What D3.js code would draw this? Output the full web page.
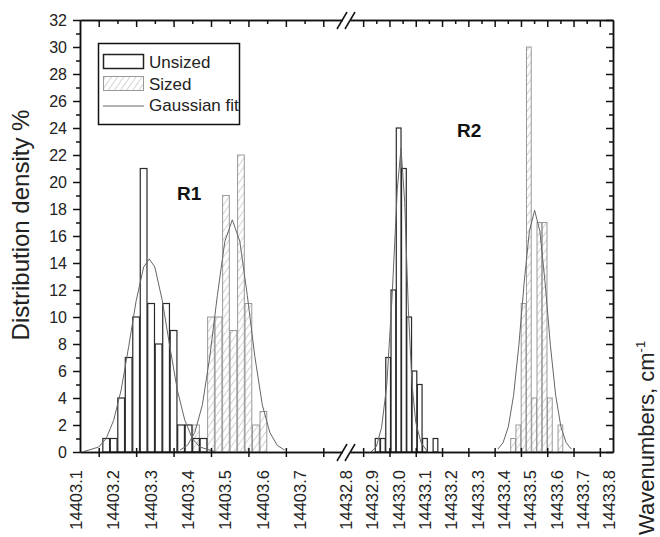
<!DOCTYPE html>
<html>
<head>
<meta charset="utf-8">
<script src="https://cdn.jsdelivr.net/npm/d3@7.9.0/dist/d3.min.js"></script>
<style>
    html, body { margin: 0; padding: 0; background: #fff; }
    svg { display: block; font-family: "Liberation Sans", Arial, Helvetica, sans-serif; }
</style>
</head>
<body>
<svg id="chart" width="660" height="537"></svg>
<script>
// --- data (bin centres in cm-1, heights in %) ---
var r1UnsizedX = [14403.12, 14403.14, 14403.16, 14403.18, 14403.20, 14403.22, 14403.24, 14403.26, 14403.28, 14403.30, 14403.32, 14403.34, 14403.36, 14403.38]
var r1UnsizedY = [1, 1, 4, 7, 10, 21, 11, 8, 11, 9, 2, 2, 1, 1]
var r1SizedX = [14403.36, 14403.40, 14403.42, 14403.44, 14403.46, 14403.48, 14403.50, 14403.52, 14403.54]
var r1SizedY = [2, 10, 10, 19, 9, 22, 11, 2, 3]

var r2UnsizedX = [14432.855, 14432.875, 14432.895, 14432.915, 14432.935, 14432.955, 14432.975, 14432.995, 14433.015, 14433.035, 14433.075]
var r2UnsizedY = [1, 1, 7, 12, 24, 21, 10, 6, 5, 1, 1]
var r2SizedX = [14433.37, 14433.39, 14433.41, 14433.43, 14433.45, 14433.47, 14433.49, 14433.51, 14433.53, 14433.55]
var r2SizedY = [1, 2, 11, 30, 4, 17, 17, 4, 0, 2]

// Gaussian fit curves
var fitR1UnsizedX = [14403.06, 14403.10, 14403.12, 14403.14, 14403.16, 14403.18, 14403.20, 14403.22, 14403.235, 14403.25, 14403.27, 14403.29, 14403.31, 14403.33, 14403.35, 14403.37, 14403.41]
var fitR1UnsizedY = [0.03, 0.37, 1.0, 2.35, 4.6, 7.8, 11.2, 13.7, 14.3, 13.7, 11.2, 7.8, 4.6, 2.35, 1.0, 0.37, 0.03]
var fitR1SizedX = [14403.317, 14403.337, 14403.357, 14403.377, 14403.397, 14403.417, 14403.437, 14403.457, 14403.477, 14403.497, 14403.517, 14403.537, 14403.557, 14403.577, 14403.597]
var fitR1SizedY = [0.14, 0.49, 1.46, 3.5, 7.1, 11.6, 15.6, 17.2, 15.6, 11.6, 7.1, 3.5, 1.46, 0.49, 0.14]
var fitR2UnsizedX = [14432.83, 14432.85, 14432.87, 14432.89, 14432.91, 14432.93, 14432.944, 14432.958, 14432.972, 14432.986, 14433.00, 14433.02, 14433.045]
var fitR2UnsizedY = [0, 0.4, 1.8, 5.0, 11.5, 19.5, 22.5, 18.5, 10.5, 5.0, 2.2, 0.7, 0]
var fitR2SizedX = [14433.312, 14433.332, 14433.352, 14433.372, 14433.392, 14433.412, 14433.432, 14433.452, 14433.472, 14433.492, 14433.512, 14433.532, 14433.552, 14433.572, 14433.592]
var fitR2SizedY = [0.21, 0.69, 1.86, 4.2, 7.9, 12.5, 16.35, 17.9, 16.35, 12.5, 7.9, 4.2, 1.86, 0.69, 0.21]

var leftTicks = [14403.1, 14403.2, 14403.3, 14403.4, 14403.5, 14403.6, 14403.7]
var rightTicks = [14432.8, 14432.9, 14433.0, 14433.1, 14433.2, 14433.3, 14433.4, 14433.5, 14433.6, 14433.7, 14433.8]
var legendLabels = ['Unsized', 'Sized', 'Gaussian fit']

var BAR_W = 0.018

;(function () {
    var svg = d3.select('#chart')
    var top = 20, bottom = 452

    var y = d3.scaleLinear().domain([0, 32]).range([bottom, top])
    var xL = d3.scaleLinear().domain([14403.05, 14403.75]).range([80, 342])
    var xR = d3.scaleLinear().domain([14432.75, 14433.75]).range([350, 613])

    var defs = svg.append('defs')
    defs.append('pattern')
        .attr('id', 'hatch')
        .attr('patternUnits', 'userSpaceOnUse')
        .attr('width', 5).attr('height', 5)
        .attr('patternTransform', 'rotate(35)')
        .append('line')
        .attr('x1', 0).attr('y1', 0).attr('x2', 0).attr('y2', 5)
        .attr('stroke', '#a8a8a8').attr('stroke-width', 1)

    function bars(xs, cx, cy, sized) {
        var data = cx.map(function (c, i) { return { c: c, v: cy[i] } }).filter(function (d) { return d.v > 0 })
        svg.append('g').selectAll('rect').data(data).enter().append('rect')
            .attr('x', function (d) { return xs(d.c - BAR_W / 2) })
            .attr('width', function (d) { return xs(d.c + BAR_W / 2) - xs(d.c - BAR_W / 2) })
            .attr('y', function (d) { return y(d.v) })
            .attr('height', function (d) { return y(0) - y(d.v) })
            .attr('fill', sized ? 'url(#hatch)' : 'none')
            .attr('stroke', sized ? '#999' : '#2a2a2a')
            .attr('stroke-width', sized ? 1 : 1.2)
    }

    function fit(xs, fx, fy) {
        var pts = fx.map(function (c, i) { return [c, fy[i]] })
        svg.append('path').datum(pts)
            .attr('fill', 'none')
            .attr('stroke', '#666')
            .attr('stroke-width', 1)
            .attr('d', d3.line().x(function (d) { return xs(d[0]) }).y(function (d) { return y(d[1]) }))
    }

    bars(xL, r1SizedX, r1SizedY, true)
    bars(xL, r1UnsizedX, r1UnsizedY, false)
    bars(xR, r2SizedX, r2SizedY, true)
    bars(xR, r2UnsizedX, r2UnsizedY, false)
    fit(xL, fitR1UnsizedX, fitR1UnsizedY)
    fit(xL, fitR1SizedX, fitR1SizedY)
    fit(xR, fitR2UnsizedX, fitR2UnsizedY)
    fit(xR, fitR2SizedX, fitR2SizedY)

    // --- axes ---
    function style(g) {
        g.selectAll('path, line').attr('stroke', '#111').attr('stroke-width', 1.5)
        g.selectAll('text').remove()
    }
    var yMajor = d3.range(0, 33, 2), yMinor = d3.range(1, 32, 2)
    svg.append('g').attr('transform', 'translate(80,0)')
        .call(d3.axisLeft(y).tickValues(yMajor).tickSize(7).tickSizeOuter(0)).call(style)
    svg.append('g').attr('transform', 'translate(80,0)')
        .call(d3.axisLeft(y).tickValues(yMinor).tickSize(4).tickSizeOuter(0)).call(style)
    svg.append('g').attr('transform', 'translate(613,0)')
        .call(d3.axisLeft(y).tickValues(yMajor).tickSize(7).tickSizeOuter(0)).call(style)
    svg.append('g').attr('transform', 'translate(613,0)')
        .call(d3.axisLeft(y).tickValues(yMinor).tickSize(4).tickSizeOuter(0)).call(style)

    svg.append('g').selectAll('text').data(yMajor).enter().append('text')
        .attr('x', 67).attr('y', function (d) { return y(d) })
        .attr('dy', '0.35em').attr('text-anchor', 'end')
        .attr('font-size', 16).attr('fill', '#222')
        .text(function (d) { return d })

    function halfTicks(xs, ticks) {
        return ticks.map(function (t) { return t - 0.05 }).filter(function (t) { return t > xs.domain()[0] + 0.001 })
    }
    ;[[xL, leftTicks], [xR, rightTicks.slice(0, 10)]].forEach(function (p) {
        var xs = p[0]
        svg.append('g').attr('transform', 'translate(0,' + top + ')')
            .call(d3.axisBottom(xs).tickValues(p[1]).tickSize(7).tickSizeOuter(0)).call(style)
        svg.append('g').attr('transform', 'translate(0,' + top + ')')
            .call(d3.axisBottom(xs).tickValues(halfTicks(xs, p[1])).tickSize(4).tickSizeOuter(0)).call(style)
        svg.append('g').attr('transform', 'translate(0,' + bottom + ')')
            .call(d3.axisBottom(xs).tickValues(p[1]).tickSize(5).tickSizeOuter(0)).call(style)
        svg.append('g').attr('transform', 'translate(0,' + bottom + ')')
            .call(d3.axisTop(xs).tickValues(p[1]).tickSize(4).tickSizeOuter(0)).call(style)
    })

    // break marks
    ;[top, bottom].forEach(function (yy) {
        ;[342, 350].forEach(function (bx) {
            svg.append('line')
                .attr('x1', bx - 5).attr('y1', yy + 9).attr('x2', bx + 5).attr('y2', yy - 8)
                .attr('stroke', '#111').attr('stroke-width', 1.5)
        })
    })

    // x tick labels (sit left of their ticks as in the source figure)
    function xLabels(xs, ticks, shift) {
        svg.append('g').selectAll('text').data(ticks).enter().append('text')
            .attr('transform', function (d) { return 'translate(' + (xs(d) - shift) + ',470) rotate(-90)' })
            .attr('text-anchor', 'end')
            .attr('font-size', 16.5).attr('fill', '#222')
            .text(function (d) { return d.toFixed(1) })
    }
    xLabels(xL, leftTicks, 17)
    xLabels(xR, rightTicks, 11)

    // axis titles
    svg.append('text')
        .attr('transform', 'translate(29,225) rotate(-90)')
        .attr('text-anchor', 'middle')
        .attr('font-size', 24).attr('fill', '#222')
        .text('Distribution density %')
    var wt = svg.append('text')
        .attr('transform', 'translate(654,535) rotate(-90)')
        .attr('font-size', 22).attr('fill', '#222')
    wt.append('tspan').text('Wavenumbers, cm')
    wt.append('tspan').attr('font-size', 13).attr('dy', -9).text('-1')

    // region labels
    svg.append('text').attr('x', 177).attr('y', 200).attr('font-size', 19).attr('font-weight', 'bold').attr('fill', '#111').text('R1')
    svg.append('text').attr('x', 457).attr('y', 137).attr('font-size', 19).attr('font-weight', 'bold').attr('fill', '#111').text('R2')

    // legend
    var lg = svg.append('g')
    lg.append('rect').attr('x', 98.5).attr('y', 43.5).attr('width', 141).attr('height', 81)
        .attr('fill', '#fff').attr('stroke', '#111').attr('stroke-width', 1.5)
    lg.append('rect').attr('x', 103.5).attr('y', 54.5).attr('width', 40).attr('height', 14)
        .attr('fill', '#fff').attr('stroke', '#222').attr('stroke-width', 1.5)
    lg.append('rect').attr('x', 103.5).attr('y', 76.5).attr('width', 40).attr('height', 14)
        .attr('fill', 'url(#hatch)').attr('stroke', '#999').attr('stroke-width', 1)
    lg.append('line').attr('x1', 103).attr('x2', 144).attr('y1', 106).attr('y2', 106)
        .attr('stroke', '#666').attr('stroke-width', 1)
    lg.selectAll('text.lab').data(legendLabels).enter().append('text')
        .attr('class', 'lab')
        .attr('x', 149).attr('y', function (d, i) { return 68 + i * 21.5 })
        .attr('font-size', 17).attr('fill', '#222')
        .text(function (d) { return d })
})()
</script>
</body>
</html>
